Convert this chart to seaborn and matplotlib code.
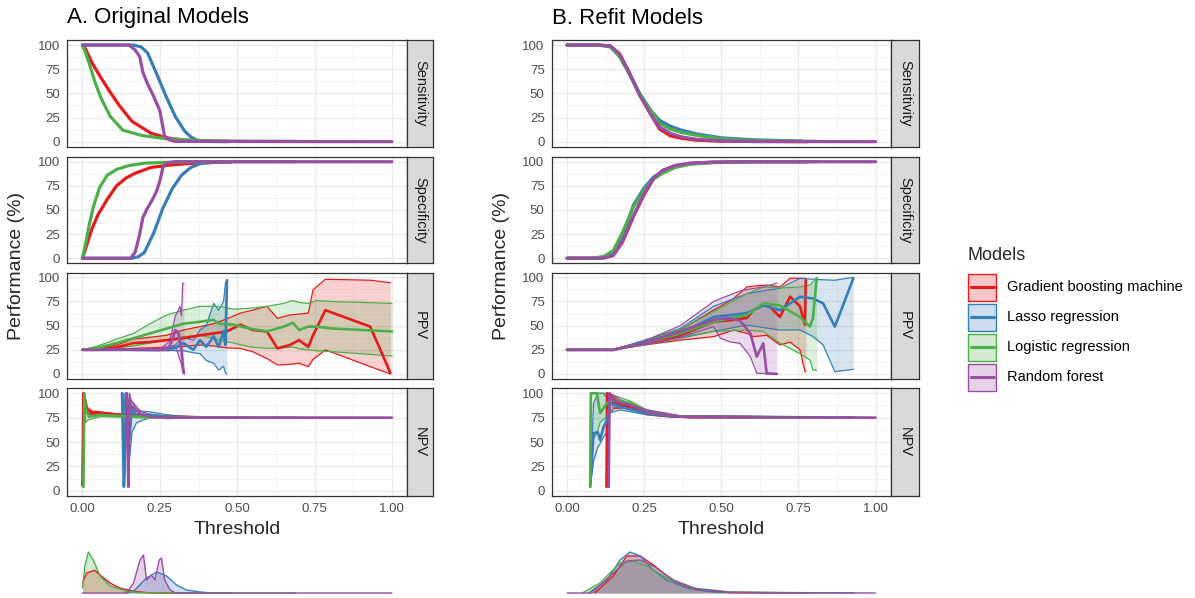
import matplotlib
matplotlib.use("Agg")
import matplotlib.pyplot as plt
import seaborn as sns
import pandas as pd
from matplotlib.patches import Rectangle

# ---------------- data ----------------
MODELS = ["Gradient boosting machine", "Lasso regression", "Logistic regression", "Random forest"]
COLORS = ["#E41A1C", "#377EB8", "#4DAF4A", "#984EA3"]
METRICS = ["Sensitivity", "Specificity", "PPV", "NPV"]
X_TICKS = [0, 0.25, 0.5, 0.75, 1.0]
X_TICK_LABELS = ["0.00", "0.25", "0.50", "0.75", "1.00"]
Y_TICKS = [0, 25, 50, 75, 100]
PANEL_TITLES = ["A. Original Models", "B. Refit Models"]

# ---- Panel A: original models ----
A_SENS_GBM_X = [0, 0.01, 0.03, 0.06, 0.09, 0.12, 0.16, 0.22, 0.27, 0.33, 0.40, 0.48]
A_SENS_GBM_Y = [100, 96, 82, 66, 51, 37, 21, 9, 4, 1.7, 0.6, 0.2]
A_SENS_LASSO_X = [0, 0.10, 0.165, 0.19, 0.21, 0.24, 0.27, 0.30, 0.33, 0.35, 0.37, 0.40, 0.47]
A_SENS_LASSO_Y = [100, 100, 100, 98, 92, 70, 47, 26, 11, 5, 1.6, 0.3, 0]
A_SENS_LOGIT_X = [0, 0.01, 0.025, 0.04, 0.06, 0.09, 0.13, 0.19, 0.27, 0.38, 0.5, 0.69]
A_SENS_LOGIT_Y = [100, 92, 78, 62, 45, 26, 12, 6.5, 3, 1, 0.5, 0.3]
A_SENS_RF_X = [0, 0.15, 0.17, 0.185, 0.195, 0.21, 0.23, 0.25, 0.26, 0.265, 0.28, 0.30, 1.0]
A_SENS_RF_Y = [100, 100, 95, 88, 72, 60, 47, 32, 15, 6, 2, 0.3, 0]

A_SPEC_GBM_X = [0, 0.01, 0.03, 0.05, 0.08, 0.11, 0.14, 0.17, 0.22, 0.28, 0.33, 0.40, 0.48]
A_SPEC_GBM_Y = [0, 10, 30, 45, 61, 75, 83, 88, 94, 96.5, 97.8, 99, 99.7]
A_SPEC_LASSO_X = [0, 0.16, 0.18, 0.2, 0.23, 0.26, 0.29, 0.32, 0.35, 0.38, 0.42, 0.47]
A_SPEC_LASSO_Y = [0, 0, 1.5, 6, 26, 52, 72, 86, 94, 98, 99.5, 100]
A_SPEC_LOGIT_X = [0, 0.01, 0.02, 0.035, 0.055, 0.08, 0.11, 0.15, 0.2, 0.3, 0.4, 0.69]
A_SPEC_LOGIT_Y = [0, 15, 32, 53, 73, 86, 92, 96, 98.5, 99.7, 100, 100]
A_SPEC_RF_X = [0, 0.155, 0.17, 0.185, 0.195, 0.21, 0.225, 0.24, 0.25, 0.26, 0.27, 0.30, 1.0]
A_SPEC_RF_Y = [0, 0, 6, 25, 42, 52, 60, 70, 80, 94, 98.5, 100, 100]

A_PPV_GBM_X = [0, 0.05, 0.11, 0.165, 0.218, 0.272, 0.326, 0.38, 0.424, 0.466, 0.51, 0.55, 0.596, 0.63, 0.67, 0.70, 0.73, 0.745, 0.785, 0.93, 0.995]
A_PPV_GBM_MID = [25, 25, 27.6, 32, 33, 35, 37, 40, 42, 44, 51, 45.5, 44, 26.5, 30, 35, 28, 40, 66, 49, 1]
A_PPV_GBM_HI = [25, 26, 30, 36, 38, 40, 45.5, 49, 52, 57, 63, 66, 70, 57.6, 61, 62, 63, 87, 98, 97, 94.5]
A_PPV_GBM_LO = [25, 25, 25.5, 26.5, 27, 27.6, 28.5, 30, 29, 27, 26.5, 23, 16, 9.3, 10, 11, 7.6, 15, 25, 7.6, 0]
A_PPV_LASSO_X = [0, 0.25, 0.30, 0.326, 0.358, 0.38, 0.40, 0.424, 0.44, 0.456, 0.462, 0.467]
A_PPV_LASSO_MID = [25, 25, 27, 32, 25, 35, 28, 39, 28, 44, 30, 97]
A_PPV_LASSO_HI = [25, 25, 30, 38, 35, 45.5, 50, 73, 66, 75, 94, 97]
A_PPV_LASSO_LO = [25, 25, 24, 24, 22, 21, 14, 11, 4, 8, 1, 0]
A_PPV_LOGIT_X = [0, 0.05, 0.11, 0.165, 0.218, 0.272, 0.326, 0.38, 0.424, 0.44, 0.488, 0.54, 0.596, 0.65, 0.68, 0.70, 0.73, 0.757, 0.81, 1.0]
A_PPV_LOGIT_MID = [25, 27, 32, 37, 42, 47, 52, 54, 56, 52, 51, 47, 44, 49, 53, 45.5, 49, 49, 47, 44]
A_PPV_LOGIT_HI = [25, 29, 36, 42, 52, 61, 66, 70, 70, 70, 67, 68, 70, 73, 76, 74, 73, 76, 75, 73]
A_PPV_LOGIT_LO = [25, 25.5, 27, 29, 32, 35, 38.6, 40, 37, 35, 32, 28, 26.5, 27, 28, 26, 25, 24, 23, 18.6]
A_PPV_RF_X = [0, 0.25, 0.28, 0.29, 0.30, 0.31, 0.315, 0.32, 0.324, 0.328]
A_PPV_RF_MID = [25, 25, 28, 35, 45.5, 42, 35, 25, 10, 0.7]
A_PPV_RF_HI = [25, 26, 33, 45, 60, 66, 70, 60, 94, 94]
A_PPV_RF_LO = [25, 24, 24, 25, 28, 20, 14.5, 10, 2, 0]

A_NPV_GBM_X = [0.0, 0.003, 0.014, 0.03, 0.057, 0.111, 0.165, 0.25, 0.38, 0.48]
A_NPV_GBM_MID = [5, 100, 83, 80, 79.5, 78, 77, 76, 75.3, 75]
A_NPV_GBM_HI = [5, 100, 86, 82, 81, 79, 78, 77, 76, 75.5]
A_NPV_GBM_LO = [5, 100, 80, 78, 77.5, 76.5, 76, 75.5, 75, 74.8]
A_NPV_LASSO_X = [0.128, 0.131, 0.134, 0.138, 0.141, 0.146, 0.15, 0.16, 0.175, 0.218, 0.272, 0.337, 0.47]
A_NPV_LASSO_MID = [100, 50, 4, 60, 100, 70, 48.6, 86, 76, 78, 76, 75.3, 75]
A_NPV_LASSO_HI = [100, 100, 80, 100, 100, 95, 90, 92, 82, 81, 78, 76, 75.2]
A_NPV_LASSO_LO = [100, 30, 4, 20, 70, 40, 25, 60, 70, 75, 74, 74.5, 74.8]
A_NPV_LOGIT_X = [0.003, 0.006, 0.01, 0.02, 0.057, 0.2, 0.69]
A_NPV_LOGIT_MID = [4, 100, 85, 76, 77.7, 75.5, 75]
A_NPV_LOGIT_HI = [4, 100, 95, 80, 79, 76, 75.2]
A_NPV_LOGIT_LO = [4, 100, 70, 73, 76, 75, 74.8]
A_NPV_RF_X = [0.143, 0.146, 0.148, 0.152, 0.158, 0.165, 0.186, 0.218, 0.3, 1.0]
A_NPV_RF_MID = [100, 50, 4, 93, 85, 86, 79, 76, 75, 75]
A_NPV_RF_HI = [100, 100, 50, 100, 92, 90, 82, 78, 75.5, 75]
A_NPV_RF_LO = [100, 20, 4, 70, 75, 80, 77, 75, 74.5, 75]

A_DENS_GBM_X = [0, 0.014, 0.04, 0.057, 0.089, 0.12, 0.165, 0.22, 0.48]
A_DENS_GBM_Y = [10, 20, 22.7, 18, 10, 5, 1.7, 0, 0]
A_DENS_LASSO_X = [0.14, 0.165, 0.207, 0.24, 0.272, 0.304, 0.337, 0.38, 0.42, 0.47]
A_DENS_LASSO_Y = [0, 1.7, 15, 21, 17, 8, 3, 1, 0, 0]
A_DENS_LOGIT_X = [0, 0.008, 0.019, 0.035, 0.057, 0.089, 0.143, 0.186, 0.25, 0.69]
A_DENS_LOGIT_Y = [5, 27, 41, 33, 17, 7, 1.7, 0.3, 0, 0]
A_DENS_RF_X = [0, 0.13, 0.143, 0.165, 0.186, 0.197, 0.207, 0.223, 0.234, 0.248, 0.255, 0.266, 0.283, 0.3, 1.0]
A_DENS_RF_Y = [0, 0, 0, 10, 33, 38, 13, 18, 13, 33, 35, 13, 3, 0, 0]

# ---- Panel B: refit models ----
B_SENS_GBM_X = [0, 0.10, 0.14, 0.17, 0.20, 0.235, 0.27, 0.30, 0.335, 0.37, 0.42, 0.5, 0.6, 0.78]
B_SENS_GBM_Y = [100, 100, 99, 91, 73, 49, 29, 13, 6, 3.5, 1.5, 0.5, 0.2, 0]
B_SENS_LASSO_X = [0, 0.10, 0.14, 0.17, 0.20, 0.235, 0.27, 0.30, 0.335, 0.37, 0.42, 0.5, 0.6, 0.76]
B_SENS_LASSO_Y = [100, 100, 99, 90, 72, 50, 33, 22, 16, 12, 8, 4, 2, 0.6]
B_SENS_LOGIT_X = [0, 0.10, 0.14, 0.17, 0.20, 0.235, 0.27, 0.30, 0.335, 0.37, 0.42, 0.5, 0.6, 0.81]
B_SENS_LOGIT_Y = [100, 100, 98, 88, 71, 50, 33, 19, 13, 9.5, 6.5, 3, 1.2, 0.3]
B_SENS_RF_X = [0, 0.10, 0.14, 0.17, 0.20, 0.235, 0.27, 0.30, 0.335, 0.37, 0.42, 0.5, 0.6, 1.0]
B_SENS_RF_Y = [100, 100, 99, 91, 72, 48, 29, 15, 8.6, 5, 2.4, 0.8, 0.2, 0]

B_SPEC_GBM_X = [0, 0.08, 0.12, 0.15, 0.18, 0.215, 0.25, 0.28, 0.31, 0.35, 0.40, 0.47, 0.6, 0.78]
B_SPEC_GBM_Y = [0, 0, 0.5, 3, 17, 43, 66, 82, 91, 96, 98.5, 99.5, 100, 100]
B_SPEC_LASSO_X = [0, 0.08, 0.12, 0.15, 0.18, 0.215, 0.25, 0.28, 0.31, 0.35, 0.40, 0.47, 0.6, 0.76]
B_SPEC_LASSO_Y = [0, 0, 0.5, 4, 22, 55, 73, 84, 90, 95, 97.8, 99.3, 100, 100]
B_SPEC_LOGIT_X = [0, 0.08, 0.12, 0.15, 0.18, 0.215, 0.25, 0.28, 0.31, 0.35, 0.40, 0.47, 0.6, 0.81]
B_SPEC_LOGIT_Y = [0, 0, 2, 8, 27, 53, 71, 82, 88, 94, 97.5, 99, 100, 100]
B_SPEC_RF_X = [0, 0.08, 0.12, 0.15, 0.18, 0.215, 0.25, 0.28, 0.31, 0.35, 0.40, 0.47, 0.6, 1.0]
B_SPEC_RF_Y = [0, 0, 0.3, 3, 18, 44, 67, 83, 91, 96, 98.5, 99.5, 100, 100]

B_PPV_GBM_X = [0, 0.15, 0.25, 0.367, 0.475, 0.54, 0.583, 0.604, 0.647, 0.69, 0.723, 0.755, 0.771, 0.774]
B_PPV_GBM_MID = [25, 25, 32, 40, 54, 56, 58, 66, 73, 59, 80, 70, 51, 97]
B_PPV_GBM_HI = [25, 25, 34, 45.5, 66, 78, 90, 91, 92, 90, 99, 99, 99, 99]
B_PPV_GBM_LO = [25, 25, 30, 35, 38.6, 45.5, 42, 38.6, 40, 30, 33, 25, 2.4, 2.4]
B_PPV_LASSO_X = [0, 0.15, 0.25, 0.367, 0.475, 0.583, 0.636, 0.69, 0.755, 0.798, 0.83, 0.868, 0.928]
B_PPV_LASSO_MID = [25, 25, 33, 42, 59, 63, 71, 66, 80, 78, 73, 49, 99]
B_PPV_LASSO_HI = [25, 25, 35, 47, 70, 83, 86, 88.6, 99, 98, 97.5, 97, 100]
B_PPV_LASSO_LO = [25, 25, 31, 37, 44, 50.7, 48, 45.5, 45.5, 38.6, 30, 2.4, 4.8]
B_PPV_LOGIT_X = [0, 0.15, 0.25, 0.367, 0.475, 0.583, 0.636, 0.69, 0.755, 0.787, 0.797, 0.809]
B_PPV_LOGIT_MID = [25, 25, 32, 42, 54, 61, 73, 71, 59, 49, 57.6, 99]
B_PPV_LOGIT_HI = [25, 25, 34, 46, 64.5, 83, 90, 89, 90, 92, 95, 100]
B_PPV_LOGIT_LO = [25, 25, 30, 38, 44, 45.5, 44, 32, 21, 14.5, 4, 4]
B_PPV_RF_X = [0, 0.15, 0.25, 0.367, 0.475, 0.497, 0.53, 0.561, 0.594, 0.615, 0.636, 0.647, 0.68]
B_PPV_RF_MID = [25, 25, 32, 44, 56, 57, 57.6, 55, 42, 18, 31.7, 0.7, 0]
B_PPV_RF_HI = [25, 25, 34, 50, 75, 78, 82, 86, 88, 89, 90, 91, 94]
B_PPV_RF_LO = [25, 25, 30, 38, 49, 37, 33, 31.7, 18, 0.7, 0.5, 0, 0]

B_NPV_GBM_X = [0.128, 0.13, 0.14, 0.15, 0.175, 0.205, 0.258, 0.32, 0.4, 0.78]
B_NPV_GBM_MID = [4, 100, 95, 90, 88, 86, 79.5, 77, 75.5, 75]
B_NPV_GBM_HI = [4, 100, 100, 96, 91, 88, 81, 78, 76, 75.2]
B_NPV_GBM_LO = [4, 100, 80, 84, 85, 84, 78, 76, 75, 74.8]
B_NPV_LASSO_X = [0.075, 0.086, 0.1, 0.107, 0.118, 0.13, 0.14, 0.172, 0.258, 0.35, 0.93]
B_NPV_LASSO_MID = [4, 59, 60, 52, 65, 72.6, 90, 86, 79.5, 76, 75]
B_NPV_LASSO_HI = [4, 90, 100, 100, 100, 95, 95, 90, 81, 77, 75.2]
B_NPV_LASSO_LO = [4, 30, 45, 48, 55, 60, 80, 83, 78, 75.5, 74.8]
B_NPV_LOGIT_X = [0.075, 0.077, 0.097, 0.107, 0.13, 0.15, 0.205, 0.258, 0.366, 0.81]
B_NPV_LOGIT_MID = [4, 100, 100, 79.5, 90, 93, 90, 81, 76, 75]
B_NPV_LOGIT_HI = [4, 100, 100, 100, 100, 98, 92, 83, 77, 75.2]
B_NPV_LOGIT_LO = [4, 50, 59, 70, 76, 85, 87, 79, 75.5, 74.8]
B_NPV_RF_X = [0.135, 0.138, 0.15, 0.175, 0.205, 0.258, 0.366, 1.0]
B_NPV_RF_MID = [4, 100, 93, 90, 88, 81, 76, 75]
B_NPV_RF_HI = [4, 100, 98, 93, 90, 83, 77, 75]
B_NPV_RF_LO = [4, 100, 85, 86, 85, 79, 75.5, 75]

B_DENS_GBM_X = [0.09, 0.15, 0.194, 0.237, 0.28, 0.345, 0.42, 0.53, 0.78]
B_DENS_GBM_Y = [0, 17, 37, 37, 28, 12, 3, 0.3, 0]
B_DENS_LASSO_X = [0.07, 0.13, 0.172, 0.204, 0.237, 0.28, 0.323, 0.388, 0.474, 0.636, 0.93]
B_DENS_LASSO_Y = [0, 13, 33, 41, 37, 23, 13, 5, 1, 0.3, 0]
B_DENS_LOGIT_X = [0.05, 0.107, 0.172, 0.215, 0.258, 0.323, 0.41, 0.53, 0.81]
B_DENS_LOGIT_Y = [0, 10, 30, 32, 27, 15, 5, 1, 0]
B_DENS_RF_X = [0, 0.08, 0.15, 0.194, 0.237, 0.28, 0.345, 0.42, 0.53, 1.0]
B_DENS_RF_Y = [0, 0, 20, 32, 33, 27, 13, 4, 0.7, 0]

# ---------------- assemble ----------------
PANELS = {
    "A": {
        "Sensitivity": [(A_SENS_GBM_X, A_SENS_GBM_Y), (A_SENS_LASSO_X, A_SENS_LASSO_Y),
                        (A_SENS_LOGIT_X, A_SENS_LOGIT_Y), (A_SENS_RF_X, A_SENS_RF_Y)],
        "Specificity": [(A_SPEC_GBM_X, A_SPEC_GBM_Y), (A_SPEC_LASSO_X, A_SPEC_LASSO_Y),
                        (A_SPEC_LOGIT_X, A_SPEC_LOGIT_Y), (A_SPEC_RF_X, A_SPEC_RF_Y)],
        "PPV": [(A_PPV_GBM_X, A_PPV_GBM_MID, A_PPV_GBM_LO, A_PPV_GBM_HI),
                (A_PPV_LASSO_X, A_PPV_LASSO_MID, A_PPV_LASSO_LO, A_PPV_LASSO_HI),
                (A_PPV_LOGIT_X, A_PPV_LOGIT_MID, A_PPV_LOGIT_LO, A_PPV_LOGIT_HI),
                (A_PPV_RF_X, A_PPV_RF_MID, A_PPV_RF_LO, A_PPV_RF_HI)],
        "NPV": [(A_NPV_GBM_X, A_NPV_GBM_MID, A_NPV_GBM_LO, A_NPV_GBM_HI),
                (A_NPV_LASSO_X, A_NPV_LASSO_MID, A_NPV_LASSO_LO, A_NPV_LASSO_HI),
                (A_NPV_LOGIT_X, A_NPV_LOGIT_MID, A_NPV_LOGIT_LO, A_NPV_LOGIT_HI),
                (A_NPV_RF_X, A_NPV_RF_MID, A_NPV_RF_LO, A_NPV_RF_HI)],
        "dens": [(A_DENS_GBM_X, A_DENS_GBM_Y), (A_DENS_LASSO_X, A_DENS_LASSO_Y),
                 (A_DENS_LOGIT_X, A_DENS_LOGIT_Y), (A_DENS_RF_X, A_DENS_RF_Y)],
    },
    "B": {
        "Sensitivity": [(B_SENS_GBM_X, B_SENS_GBM_Y), (B_SENS_LASSO_X, B_SENS_LASSO_Y),
                        (B_SENS_LOGIT_X, B_SENS_LOGIT_Y), (B_SENS_RF_X, B_SENS_RF_Y)],
        "Specificity": [(B_SPEC_GBM_X, B_SPEC_GBM_Y), (B_SPEC_LASSO_X, B_SPEC_LASSO_Y),
                        (B_SPEC_LOGIT_X, B_SPEC_LOGIT_Y), (B_SPEC_RF_X, B_SPEC_RF_Y)],
        "PPV": [(B_PPV_GBM_X, B_PPV_GBM_MID, B_PPV_GBM_LO, B_PPV_GBM_HI),
                (B_PPV_LASSO_X, B_PPV_LASSO_MID, B_PPV_LASSO_LO, B_PPV_LASSO_HI),
                (B_PPV_LOGIT_X, B_PPV_LOGIT_MID, B_PPV_LOGIT_LO, B_PPV_LOGIT_HI),
                (B_PPV_RF_X, B_PPV_RF_MID, B_PPV_RF_LO, B_PPV_RF_HI)],
        "NPV": [(B_NPV_GBM_X, B_NPV_GBM_MID, B_NPV_GBM_LO, B_NPV_GBM_HI),
                (B_NPV_LASSO_X, B_NPV_LASSO_MID, B_NPV_LASSO_LO, B_NPV_LASSO_HI),
                (B_NPV_LOGIT_X, B_NPV_LOGIT_MID, B_NPV_LOGIT_LO, B_NPV_LOGIT_HI),
                (B_NPV_RF_X, B_NPV_RF_MID, B_NPV_RF_LO, B_NPV_RF_HI)],
        "dens": [(B_DENS_GBM_X, B_DENS_GBM_Y), (B_DENS_LASSO_X, B_DENS_LASSO_Y),
                 (B_DENS_LOGIT_X, B_DENS_LOGIT_Y), (B_DENS_RF_X, B_DENS_RF_Y)],
    },
}

sns.set_theme(style="white")
plt.rcParams["font.family"] = ["Liberation Sans", "DejaVu Sans"]
PAL = dict(zip(MODELS, COLORS))

W, H = 1195, 598
fig = plt.figure(figsize=(W / 100, H / 100), dpi=100)


def px_axes(x0, y0, x1, y1):
    return fig.add_axes([x0 / W, 1 - y1 / H, (x1 - x0) / W, (y1 - y0) / H])


def to_df(curves, cols):
    frames = []
    for m, c in zip(MODELS, curves):
        d = {"thr": c[0]}
        for name, arr in zip(cols, c[1:]):
            d[name] = arr
        df = pd.DataFrame(d)
        df["model"] = m
        frames.append(df)
    return pd.concat(frames, ignore_index=True)


ROWS = [(40.2, 146.5), (156.9, 263.1), (272.5, 378.8), (388.4, 495.6)]
PANEL_X = {"A": (67.0, 407.4, 433.0), "B": (551.6, 891.0, 919.0)}
BORDER = "#333333"

for pkey, (x0, x1, xs) in PANEL_X.items():
    pdata = PANELS[pkey]
    for ri, metric in enumerate(METRICS):
        y0, y1 = ROWS[ri]
        ax = px_axes(x0, y0, x1, y1)
        ax.set_facecolor("white")
        ax.set_xlim(-0.05, 1.05)
        ax.set_ylim(-5, 105)
        ax.set_xticks(X_TICKS)
        ax.set_xticks([0.125, 0.375, 0.625, 0.875], minor=True)
        ax.set_yticks(Y_TICKS)
        ax.set_yticks([12.5, 37.5, 62.5, 87.5], minor=True)
        ax.grid(which="major", color="#EBEBEB", lw=1.0)
        ax.grid(which="minor", color="#F2F2F2", lw=0.6)
        ax.set_axisbelow(True)
        for s in ax.spines.values():
            s.set_color(BORDER)
            s.set_linewidth(0.9)
        ax.tick_params(axis="y", which="major", length=3, width=0.8, color=BORDER,
                       labelsize=9.5, labelcolor="#4D4D4D", pad=2)
        ax.tick_params(which="minor", length=0)
        ax.set_yticklabels([str(v) for v in Y_TICKS])
        if ri == 3:
            ax.tick_params(axis="x", which="major", length=3, width=0.8, color=BORDER,
                           labelsize=9.5, labelcolor="#4D4D4D", pad=2)
            ax.set_xticklabels(X_TICK_LABELS)
        else:
            ax.tick_params(axis="x", which="major", length=0, labelbottom=False)

        curves = pdata[metric]
        if metric in ("Sensitivity", "Specificity"):
            df = to_df(curves, ["val"])
            sns.lineplot(data=df, x="thr", y="val", hue="model", palette=PAL,
                         estimator=None, sort=False, lw=2.3, legend=False, ax=ax)
        else:
            df = to_df(curves, ["mid", "lo", "hi"])
            for m in MODELS:
                sub = df[df["model"] == m]
                ax.fill_between(sub["thr"], sub["lo"], sub["hi"], color=PAL[m],
                                alpha=0.2, lw=0)
            sns.lineplot(data=df, x="thr", y="lo", hue="model", palette=PAL,
                         estimator=None, sort=False, lw=0.9, legend=False, ax=ax)
            sns.lineplot(data=df, x="thr", y="hi", hue="model", palette=PAL,
                         estimator=None, sort=False, lw=0.9, legend=False, ax=ax)
            sns.lineplot(data=df, x="thr", y="mid", hue="model", palette=PAL,
                         estimator=None, sort=False, lw=1.9, legend=False, ax=ax)
        ax.set_xlabel("")
        ax.set_ylabel("")

        # strip
        sax = px_axes(x1, y0, xs, y1)
        sax.set_facecolor("#D9D9D9")
        sax.set_xticks([])
        sax.set_yticks([])
        for s in sax.spines.values():
            s.set_color(BORDER)
            s.set_linewidth(0.9)
        sax.text(0.5, 0.5, metric, rotation=270, ha="center", va="center",
                 fontsize=10.5, color="#1A1A1A", transform=sax.transAxes)

    # density strip
    dax = px_axes(x0, 545, x1, 593)
    dax.set_xlim(-0.05, 1.05)
    dax.set_ylim(0, 48)
    dax.axis("off")
    ddf = to_df(pdata["dens"], ["dens"])
    for m in MODELS:
        sub = ddf[ddf["model"] == m]
        dax.fill_between(sub["thr"], 0, sub["dens"], color=PAL[m], alpha=0.25, lw=0)
    sns.lineplot(data=ddf, x="thr", y="dens", hue="model", palette=PAL,
                 estimator=None, sort=False, lw=1.0, legend=False, ax=dax)
    for ln in dax.lines:
        ln.set_clip_on(False)

# ---------------- text ----------------
fig.text(67 / W, 1 - 18 / H, PANEL_TITLES[0], fontsize=16, color="black",
         ha="left", va="center")
fig.text(551.6 / W, 1 - 18 / H, PANEL_TITLES[1], fontsize=16, color="black",
         ha="left", va="center")
for xc in (17, 502):
    fig.text(xc / W, 1 - 266 / H, "Performance (%)", rotation=90, fontsize=14,
             ha="center", va="center")
for xc in (237, 721):
    fig.text(xc / W, 1 - 530 / H, "Threshold", fontsize=14, ha="center", va="center")

# ---------------- legend ----------------
lax = fig.add_axes([0, 0, 1, 1])
lax.set_xlim(0, W)
lax.set_ylim(H, 0)
lax.axis("off")
lax.text(968, 256, "Models", fontsize=13, ha="left", va="center")
for i, (m, c) in enumerate(zip(MODELS, COLORS)):
    top = 273 + 30 * i
    lax.add_patch(Rectangle((968.5, top + 0.5), 28, 27, facecolor=c, alpha=0.25,
                            edgecolor="none"))
    lax.add_patch(Rectangle((968.5, top + 0.5), 28, 27, facecolor="none",
                            edgecolor=c, lw=1.0))
    lax.plot([971, 994], [top + 14, top + 14], color=c, lw=2.2)
    lax.text(1007, top + 14, m, fontsize=10.5, ha="left", va="center", color="black")

fig.savefig("out.png", dpi=100)
